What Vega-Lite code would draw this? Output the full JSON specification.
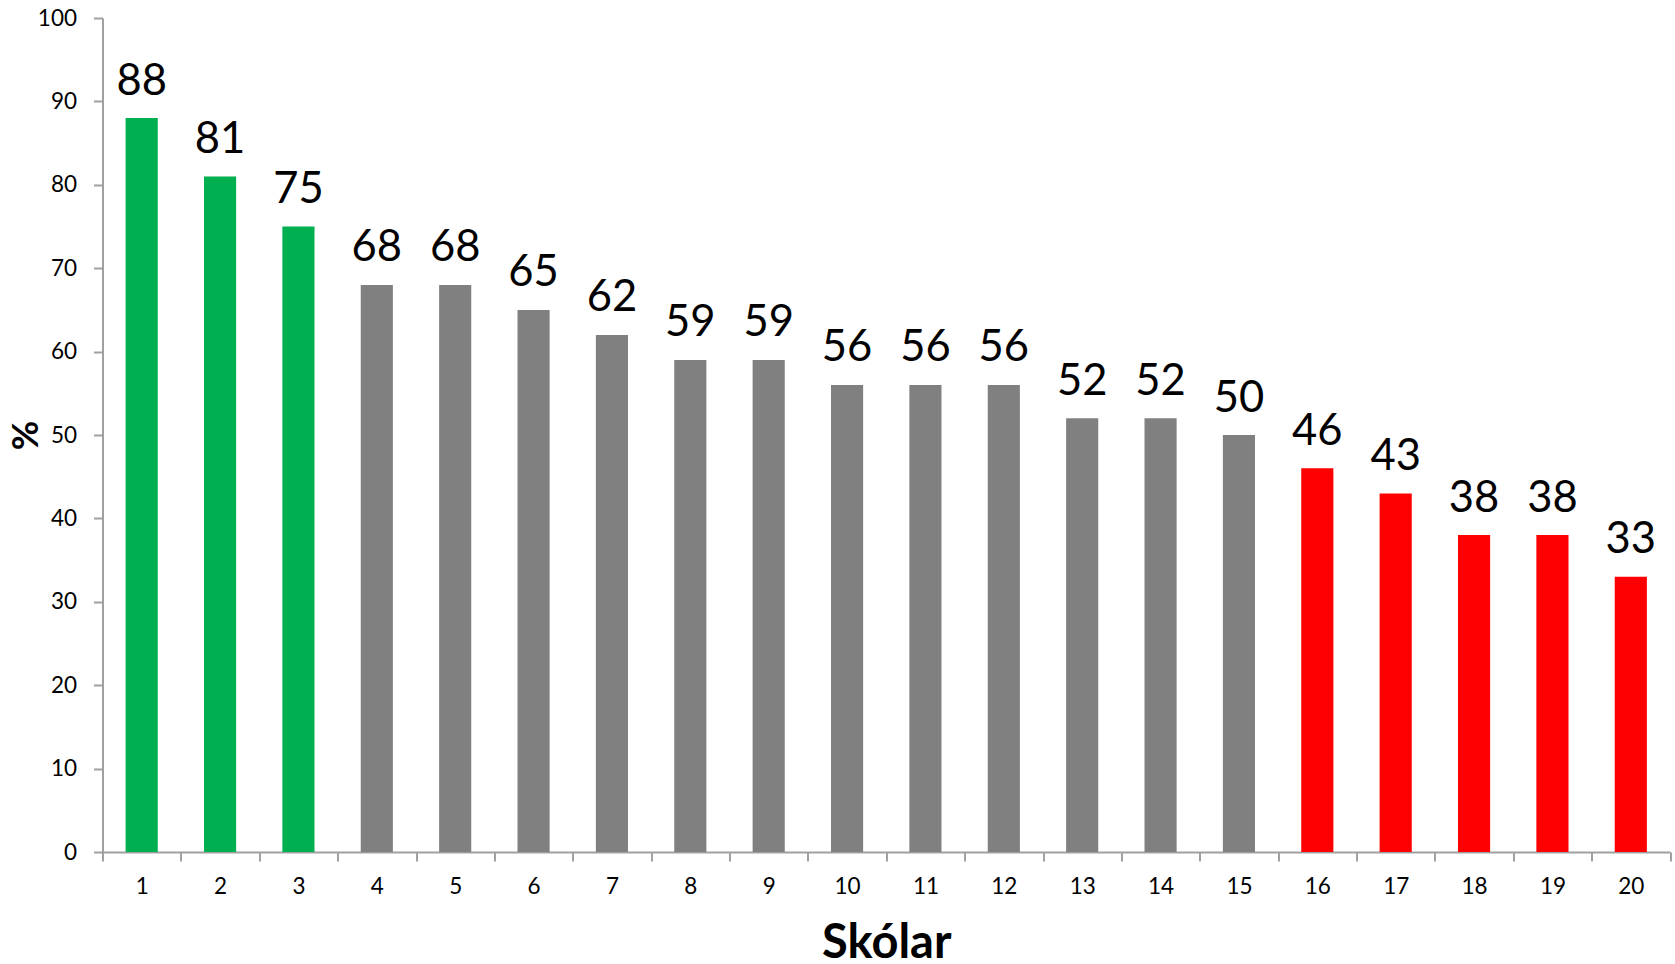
{
"$schema":"https://vega.github.io/schema/vega-lite/v6.json",
"width":1567.5,"height":834,
"autosize":{"type":"none"},
"padding":{"left":102.5,"top":18,"right":5,"bottom":112},
"background":"white",
"view":{"stroke":null},
"data":{"values":[
{"s":1,"v":88,"g":"top"},{"s":2,"v":81,"g":"top"},{"s":3,"v":75,"g":"top"},
{"s":4,"v":68,"g":"mid"},{"s":5,"v":68,"g":"mid"},{"s":6,"v":65,"g":"mid"},{"s":7,"v":62,"g":"mid"},{"s":8,"v":59,"g":"mid"},{"s":9,"v":59,"g":"mid"},{"s":10,"v":56,"g":"mid"},{"s":11,"v":56,"g":"mid"},{"s":12,"v":56,"g":"mid"},{"s":13,"v":52,"g":"mid"},{"s":14,"v":52,"g":"mid"},{"s":15,"v":50,"g":"mid"},
{"s":16,"v":46,"g":"low"},{"s":17,"v":43,"g":"low"},{"s":18,"v":38,"g":"low"},{"s":19,"v":38,"g":"low"},{"s":20,"v":33,"g":"low"}
]},
"encoding":{
"x":{"field":"s","type":"ordinal","sort":null,"scale":{"paddingInner":0,"paddingOuter":0},
 "axis":{"title":"Skólar","labelAngle":0,"tickBand":"extent","domainColor":"#a0a0a0","domainWidth":2,"tickColor":"#a0a0a0","tickWidth":2,"tickSize":9,"labelFont":"Lato","labelFontSize":22.5,"labelColor":"#000","labelPadding":14.5,"labelBaseline":"top","titleFont":"Lato","titleFontSize":47,"titleFontWeight":"bold","titleColor":"#000","titleBaseline":"alphabetic","titleY":105.5}},
"y":{"field":"v","type":"quantitative","scale":{"domain":[0,100],"nice":false},
 "axis":{"title":"%","values":[0,10,20,30,40,50,60,70,80,90,100],"grid":false,"domainColor":"#a0a0a0","domainWidth":2,"tickColor":"#a0a0a0","tickWidth":2,"tickSize":9,"labelFont":"Lato","labelFontSize":22.5,"labelColor":"#000","labelPadding":17,"titleFont":"Lato","titleFontSize":36,"titleFontWeight":"bold","titleColor":"#000","titleAngle":270,"titleBaseline":"alphabetic","titleX":-65}}
},
"layer":[
{"mark":{"type":"bar","width":{"band":0.41}},"encoding":{"color":{"field":"g","type":"nominal","legend":null,"scale":{"domain":["top","mid","low"],"range":["#00B050","#808080","#FF0000"]}}}},
{"mark":{"type":"text","font":"Lato","fontSize":43.5,"color":"#000","baseline":"alphabetic","dy":-23.5},"encoding":{"text":{"field":"v","type":"quantitative"}}}
]
}
